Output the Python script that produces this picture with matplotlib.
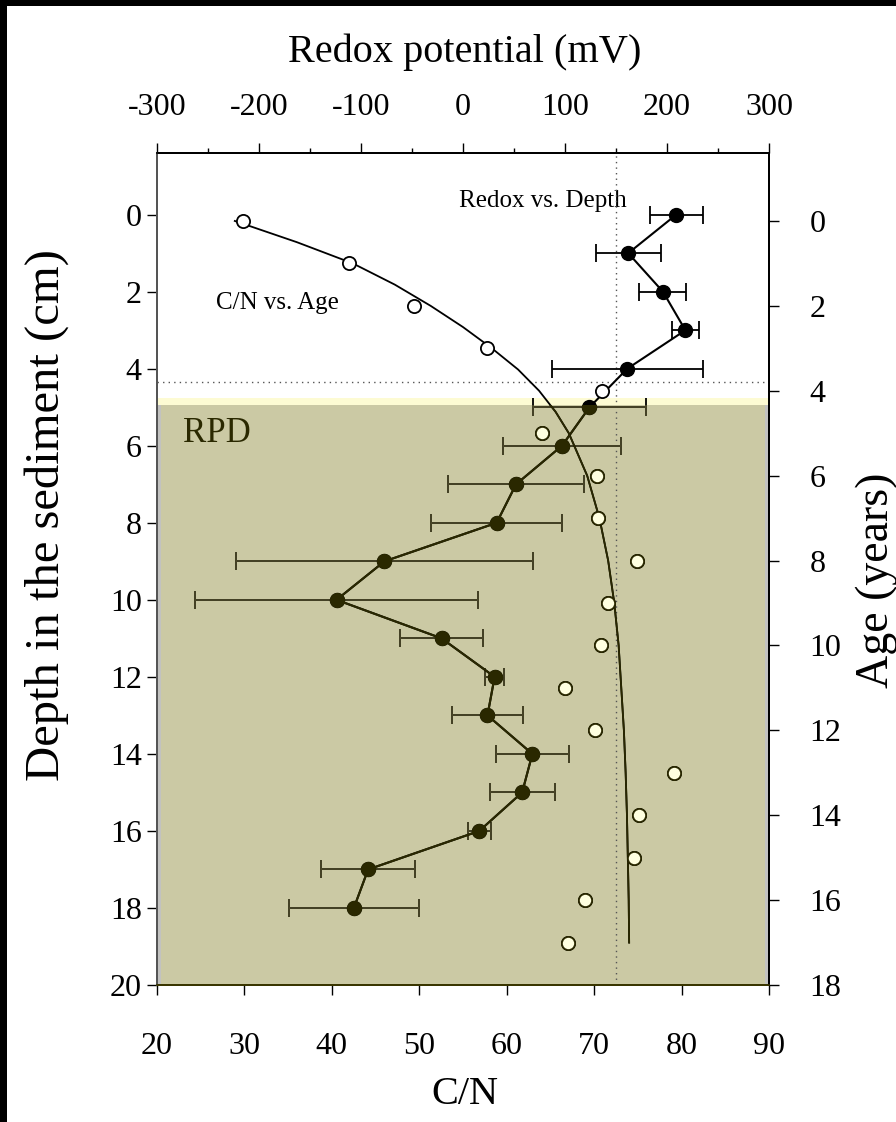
import matplotlib.pyplot as plt
from matplotlib.patches import Rectangle

plt.rcParams['font.family'] = ['Liberation Serif', 'DejaVu Serif']
plt.rcParams['axes.unicode_minus'] = False

# redox potential (mV) against depth (cm), with spread
depth = [0, 1, 2, 3, 4, 5, 6, 7, 8, 9, 10, 11, 12, 13, 14, 15, 16, 17, 18]
redox = [209, 162, 196, 218, 161, 124, 97, 52, 33, -77, -124, -21, 31, 24, 68, 58, 16, -93, -107]
redox_err = [26, 32, 23, 13, 74, 55, 58, 67, 64, 146, 139, 41, 9, 35, 36, 32, 11, 46, 64]

# C/N against age (years)
age = [0, 1, 2, 3, 4, 5, 6, 7, 8, 9, 10, 11, 12, 13, 14, 15, 16, 17]
cn = [29.8, 42.0, 49.4, 57.8, 70.9, 64.0, 70.3, 70.4, 74.9, 71.6, 70.8, 66.7, 70.1, 79.1, 75.1, 74.5, 68.9, 67.0]

# fitted curve
fit_age = [0, 0.5, 1, 1.5, 2, 2.5, 3, 3.5, 4, 4.5, 5, 6, 7, 8, 9, 10, 11, 12, 13, 14, 15, 16, 17]
fit_cn = [28.9, 36.0, 42.4, 47.2, 51.3, 55.0, 58.3, 61.3, 63.7, 65.6, 67.1, 69.2, 70.6, 71.6, 72.3,
          72.8, 73.1, 73.4, 73.6, 73.75, 73.85, 73.95, 74.0]

rpd_top = 4.93
rpd_edge = 4.75
depth_line = 4.35
redox_line = 150

olive = '#cbc9a4'
dark = '#2a2800'

fig, ax = plt.subplots(figsize=(8.96, 11.22), dpi=100)
fig.patch.set_facecolor('white')
fig.patch.set_alpha(1)
fig.subplots_adjust(left=0.1752, right=0.8583, bottom=0.1221, top=0.8636)
ax_top = ax.twiny()
ax_age = ax.twinx()

ax.set_xlim(20, 90)
ax.set_ylim(20, -1.6)
ax_top.set_xlim(-300, 300)
ax_age.set_ylim(18, -1.6)

# RPD zone
ax.add_patch(Rectangle((20, rpd_edge), 70, 20 - rpd_edge, facecolor='#fdfbd3', edgecolor='none', zorder=0))
rpd = Rectangle((20, rpd_top), 70, 20 - rpd_top, facecolor='#c2c2c0', edgecolor='none', zorder=0.1)
ax.add_patch(rpd)
ax.add_patch(Rectangle((20.5, rpd_top), 69.05, 20 - rpd_top, facecolor=olive, edgecolor='none', zorder=0.2))
ax.text(23.0, 5.67, 'RPD', fontsize=25, color=dark, ha='left', va='center')

ax.axhline(depth_line, color='#555555', ls=(0, (1, 3)), lw=1)
ax_top.axvline(redox_line, color='#555555', ls=(0, (1, 3)), lw=1)


def clip_all(cont, patch):
    data_line, caps, bars = cont.lines
    for a in [data_line, *caps, *bars]:
        a.set_clip_path(patch)


# redox profile, black above the RPD, dark olive inside it
ax_top.errorbar(redox, depth, xerr=redox_err, fmt='-o', color='black', lw=1.5, ms=10,
                ecolor='black', elinewidth=1.3, capsize=6.5, capthick=1.3)
c2 = ax_top.errorbar(redox, depth, xerr=redox_err, fmt='-o', color=dark, lw=1.5, ms=10,
                     ecolor='#4a4628', elinewidth=1.3, capsize=6.5, capthick=1.3)
clip_all(c2, rpd)

# C/N vs age
ax_age.plot(fit_cn, fit_age, color='black', lw=1.3)
ln = ax_age.plot(fit_cn, fit_age, color=dark, lw=1.3)[0]
ln.set_clip_path(rpd)
ax_age.plot(cn, age, 'o', mfc='white', mec='black', ms=9.5, mew=1.3)
pts = ax_age.plot(cn, age, 'o', mfc='#ffffe0', mec=dark, ms=9.5, mew=1.3)[0]
pts.set_clip_path(rpd)

ax.text(64.1, -0.36, 'Redox vs. Depth', fontsize=18, ha='center', va='center')
ax.text(33.8, 2.29, 'C/N vs. Age', fontsize=18, ha='center', va='center')

# ticks
ax.set_xticks(range(20, 91, 10))
ax.set_yticks(range(0, 21, 2))
ax_top.set_xticks(range(-300, 301, 100))
ax_top.set_xticks(range(-250, 251, 100), minor=True)
ax_age.set_yticks(range(0, 19, 2))

ax.tick_params(axis='x', direction='out', length=7, width=1, labelsize=23, pad=27)
ax.tick_params(axis='y', direction='out', length=7, width=1, labelsize=23, pad=4)
ax_top.tick_params(axis='x', which='major', direction='out', length=7, width=1, labelsize=23, pad=15)
ax_top.tick_params(axis='x', which='minor', direction='out', length=3.5, width=1)
ax_age.tick_params(axis='y', direction='out', length=7, width=1, labelsize=23, pad=22)

for a in (ax, ax_top, ax_age):
    for s in a.spines.values():
        s.set_linewidth(1.2)
    a.spines['left'].set_color('#555555')
    a.spines['bottom'].set_color('#3a3600')

ax.set_xlabel('C/N', fontsize=29, va='center')
ax.xaxis.set_label_coords(0.503, -0.132)
ax.set_ylabel('Depth in the sediment (cm)', fontsize=35, va='center')
ax.yaxis.set_label_coords(-0.18, 0.565)
ax_top.set_xlabel('Redox potential (mV)', fontsize=29, va='center')
ax_top.xaxis.set_label_coords(0.503, 1.121)
ax_age.set_ylabel('Age (years)', fontsize=33, va='center')
ax_age.yaxis.set_label_coords(1.176, 0.487)

# thin black strips on the left and top edge of the picture
for rect in ([0, 0, 7 / 896, 1], [0, 1 - 6 / 1122, 1, 6 / 1122]):
    strip = fig.add_axes(rect)
    strip.set_facecolor('black')
    strip.set_xticks([])
    strip.set_yticks([])
    for s in strip.spines.values():
        s.set_visible(False)

fig.savefig('out.png', dpi=100, facecolor='white')
